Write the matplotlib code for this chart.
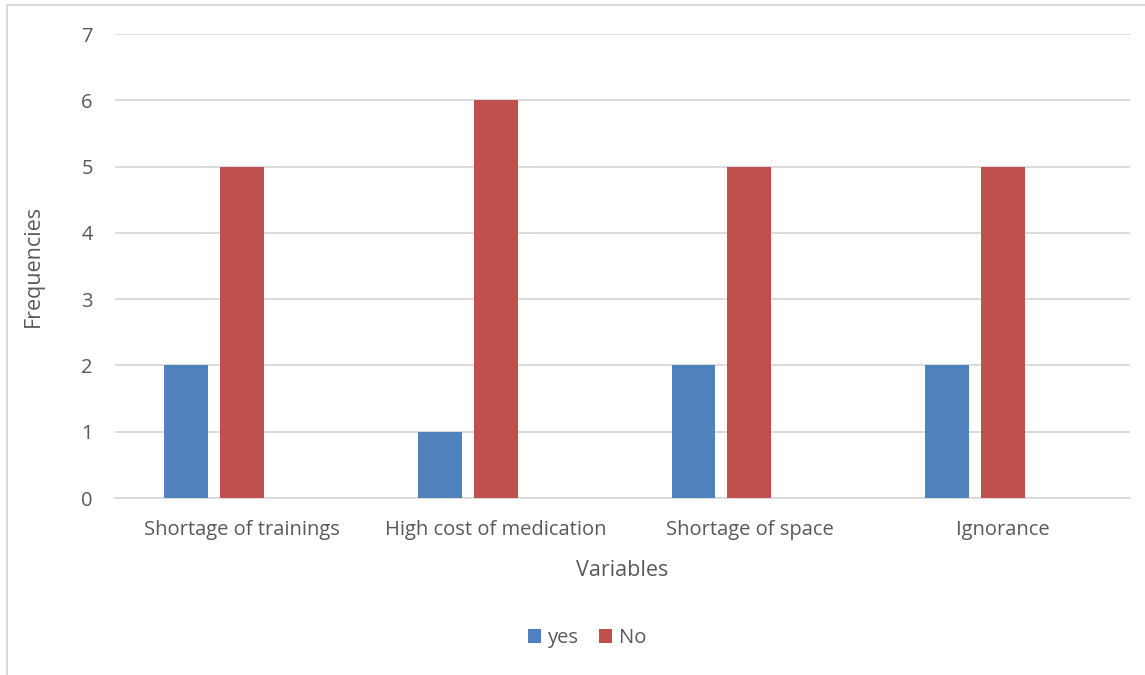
import matplotlib.pyplot as plt
import numpy as np
from matplotlib.patches import Rectangle

categories = ['Shortage of trainings', 'High cost of medication', 'Shortage of space', 'Ignorance']
yes_counts = [2, 1, 2, 2]
no_counts = [5, 6, 5, 5]

blue = '#4F81BD'
red = '#C0504D'
text_col = '#595959'
grid_col = '#D9D9D9'

plt.rcParams['font.family'] = ['Open Sans', 'DejaVu Sans']

W, H = 1145, 675
fig = plt.figure(figsize=(W / 100, H / 100), dpi=100)
ax = fig.add_axes([115 / W, 1 - 498 / H, 1015 / W, 464 / H])

# chart frame (Excel-style outer border)
fig.patches.append(Rectangle((7 / W, -0.1), 1.2, 1 - 5 / H + 0.1,
                             transform=fig.transFigure, fill=False,
                             edgecolor=grid_col, linewidth=1.5, zorder=0))

x = np.arange(len(categories))
width = 0.173
ax.bar(x - 0.22, yes_counts, width, color=blue, label='yes', zorder=3)
ax.bar(x, no_counts, width, color=red, label='No', zorder=3)

ax.set_xlim(-0.5, len(categories) - 0.5)
ax.set_ylim(0, 7)
ax.set_yticks(range(8))
ax.yaxis.grid(True, color=grid_col, linewidth=1.3)
ax.set_axisbelow(True)
for side in ['top', 'right', 'left']:
    ax.spines[side].set_visible(False)
ax.spines['bottom'].set_color(grid_col)
ax.spines['bottom'].set_linewidth(1.3)
ax.tick_params(axis='both', length=0, labelsize=14.5, colors=text_col)
ax.tick_params(axis='y', pad=16)
ax.tick_params(axis='x', pad=16)
ax.set_xticks(x)
ax.set_xticklabels(categories)

ax.set_xlabel('Variables', fontsize=15.5, color=text_col, labelpad=14)
ax.set_ylabel('Frequencies', fontsize=15.5, color=text_col, labelpad=27)

ax.legend(loc='center', bbox_to_anchor=(587 / W, 1 - 638 / H),
          bbox_transform=fig.transFigure, ncol=2, frameon=False,
          fontsize=14.5, labelcolor=text_col, handlelength=0.65, handleheight=0.65,
          handletextpad=0.35, columnspacing=1.0)

fig.savefig('out.png', dpi=100)
